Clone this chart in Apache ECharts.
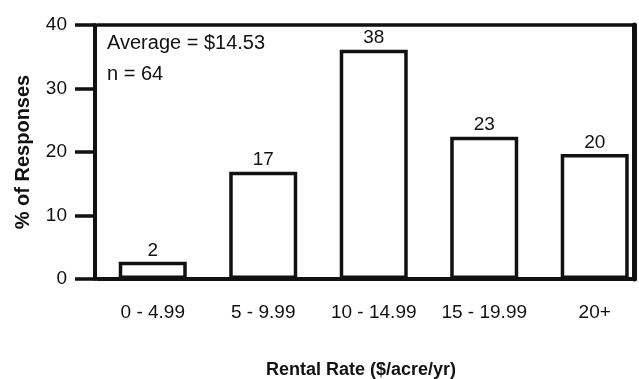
<!DOCTYPE html>
<html>
<head>
<meta charset="utf-8">
<script src="https://cdn.jsdelivr.net/npm/echarts@6/dist/echarts.min.js"></script>
<style>
  html, body { margin: 0; padding: 0; background: #fff; }
  #chart { width: 639px; height: 379px; }
</style>
</head>
<body>
<div id="chart"></div>
<script>
// Data
const categories = ['0 - 4.99', '5 - 9.99', '10 - 14.99', '15 - 19.99', '20+'];
const barHeights = [2.7, 16.9, 36.1, 22.4, 19.7];   // drawn bar heights (% of responses)
const barLabels = ['2', '17', '38', '23', '20'];     // printed values above bars
const yTicks = [0, 10, 20, 30, 40];
const annotationLines = ['Average = $14.53', 'n = 64'];
const xTitle = 'Rental Rate ($/acre/yr)';
const yTitle = '% of Responses';

const FONT = '"Liberation Sans", Arial, Helvetica, sans-serif';
const BOLD_FONT = '"Liberation Sans", Arial, Helvetica, sans-serif';
const INK = '#111';

// category positions on a numeric x scale
const catIndex = categories.map((c, i) => i);
const barData = barHeights.map((h, i) => [catIndex[i], h]);

const chart = echarts.init(document.getElementById('chart'), null, { renderer: 'canvas' });

chart.setOption({
  animation: false,
  backgroundColor: '#fff',
  textStyle: { fontFamily: FONT, color: INK },
  title: [
    { text: annotationLines[0], left: 107, top: 33, padding: 0,
      textStyle: { fontFamily: FONT, fontSize: 20, fontWeight: 'normal', color: INK } },
    { text: annotationLines[1], left: 107, top: 64, padding: 0,
      textStyle: { fontFamily: FONT, fontSize: 20, fontWeight: 'normal', color: INK } },
    { text: xTitle, left: 266, top: 361, padding: 0,
      textStyle: { fontFamily: BOLD_FONT, fontSize: 18, fontWeight: 'bold', color: INK } }
  ],
  grid: { left: 97.5, top: 25, right: 4.5, height: 254, containLabel: false },
  xAxis: [
    {
      type: 'value',
      min: -0.5,
      max: 4.36,
      position: 'bottom',
      axisLine: { show: true, onZero: false, lineStyle: { color: INK, width: 4 } },
      axisTick: { show: false },
      axisLabel: {
        show: true, margin: 24, fontFamily: FONT, fontSize: 19, color: INK,
        customValues: catIndex,
        formatter: (v) => categories[Math.round(v)] || ''
      },
      splitLine: { show: false }
    },
    {
      type: 'value',
      min: -0.5,
      max: 4.36,
      position: 'top',
      axisLine: { show: true, onZero: false, lineStyle: { color: INK, width: 3.5 } },
      axisTick: { show: false },
      axisLabel: { show: false },
      splitLine: { show: false }
    }
  ],
  yAxis: [
    {
      type: 'value',
      min: yTicks[0],
      max: yTicks[yTicks.length - 1],
      interval: 10,
      position: 'left',
      offset: 2.5,
      name: yTitle,
      nameLocation: 'middle',
      nameGap: 62,
      nameTextStyle: { fontFamily: BOLD_FONT, fontSize: 20, fontWeight: 'bold', color: INK },
      axisLine: { show: true, onZero: false, lineStyle: { color: INK, width: 4 } },
      axisTick: { show: true, length: 20, lineStyle: { color: INK, width: 3.5 } },
      axisLabel: { margin: 28, fontFamily: FONT, fontSize: 19, color: INK },
      splitLine: { show: false }
    },
    {
      type: 'value',
      min: yTicks[0],
      max: yTicks[yTicks.length - 1],
      interval: 10,
      position: 'right',
      offset: 0,
      axisLine: { show: true, onZero: false, lineStyle: { color: INK, width: 5 } },
      axisTick: { show: false },
      axisLabel: { show: false },
      splitLine: { show: false }
    }
  ],
  series: [
    {
      type: 'bar',
      xAxisIndex: 0,
      yAxisIndex: 0,
      data: barData,
      barWidth: 68,
      itemStyle: { color: '#fff', borderColor: INK, borderWidth: 3.5 },
      label: {
        show: true,
        position: 'top',
        distance: 2,
        fontFamily: FONT,
        fontSize: 19,
        color: INK,
        formatter: (p) => barLabels[p.dataIndex]
      }
    }
  ]
});
</script>
</body>
</html>
